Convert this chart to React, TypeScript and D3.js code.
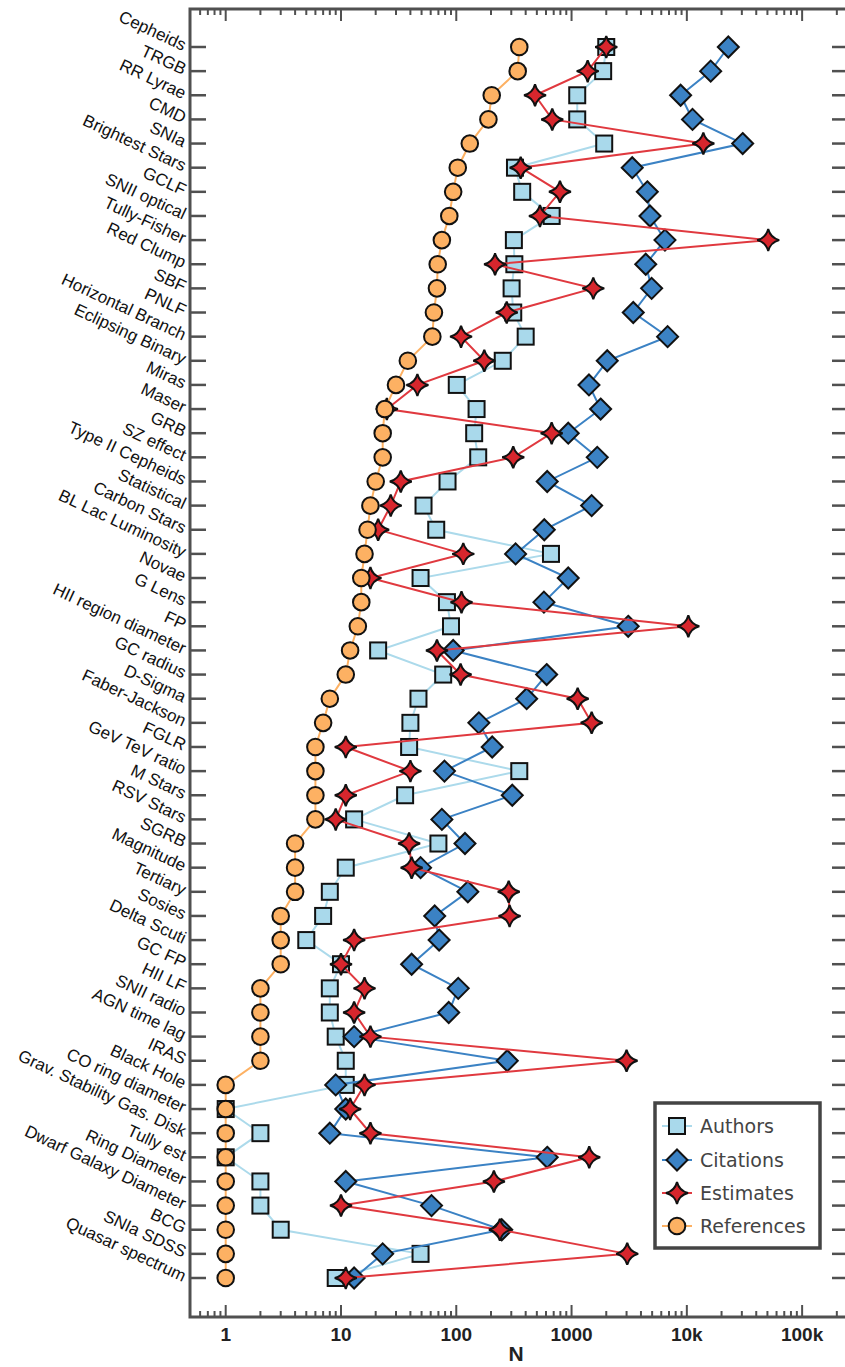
import React from 'react';
import * as d3 from 'd3';

const categories = [
  'Cepheids', 'TRGB', 'RR Lyrae', 'CMD', 'SNIa', 'Brightest Stars', 'GCLF', 'SNII optical',
  'Tully-Fisher', 'Red Clump', 'SBF', 'PNLF', 'Horizontal Branch', 'Eclipsing Binary', 'Miras',
  'Maser', 'GRB', 'SZ effect', 'Type II Cepheids', 'Statistical', 'Carbon Stars',
  'BL Lac Luminosity', 'Novae', 'G Lens', 'FP', 'HII region diameter', 'GC radius', 'D-Sigma',
  'Faber-Jackson', 'FGLR', 'GeV TeV ratio', 'M Stars', 'RSV Stars', 'SGRB', 'Magnitude',
  'Tertiary', 'Sosies', 'Delta Scuti', 'GC FP', 'HII LF', 'SNII radio', 'AGN time lag', 'IRAS',
  'Black Hole', 'CO ring diameter', 'Grav. Stability Gas. Disk', 'Tully est', 'Ring Diameter',
  'Dwarf Galaxy Diameter', 'BCG', 'SNIa SDSS', 'Quasar spectrum',
];

const authors = [
  2000, 1880, 1120, 1120, 1920, 323, 373, 672, 316, 319, 302, 312, 400, 253, 101, 150, 143, 155,
  84, 52, 67, 663, 49, 83, 90, 21, 77, 47, 40, 39, 352, 36, 13, 70, 11, 8, 7, 5, 10, 8, 8, 9,
  11, 11, 1, 2, 1, 2, 2, 3, 49, 9,
];

const citations = [
  22900, 16100, 8830, 11200, 30500, 3360, 4540, 4790, 6460, 4400, 4950, 3430, 6810, 2040, 1416,
  1787, 936, 1671, 615, 1494, 580, 327, 936, 576, 3100, 94, 608, 408, 157, 205, 79, 306, 75, 119,
  49, 126, 65, 71, 41, 104, 86, 13, 277, 9, 11, 8, 615, 11, 61, 248, 23, 13,
];

const estimates = [
  2000, 1380, 482, 680, 13900, 362, 793, 532, 50800, 217, 1543, 274, 110, 175, 46, 25, 672, 312,
  33, 27, 21, 115, 18, 111, 10300, 68, 109, 1130, 1494, 11, 40, 11, 9, 39, 41, 285, 290, 13, 10,
  16, 13, 18, 3000, 16, 12, 18, 1423, 212, 10, 239, 3040, 11,
];

const references = [
  352, 341, 203, 190, 131, 103, 94, 87, 75, 69, 68, 64, 62, 38, 30, 24, 23, 23, 20, 18, 17, 16,
  15, 15, 14, 12, 11, 8, 7, 6, 6, 6, 6, 4, 4, 4, 3, 3, 3, 2, 2, 2, 2, 1, 1, 1, 1, 1, 1, 1, 1, 1,
];

const xTickValues = [1, 10, 100, 1000, 10000, 100000];
const xTickLabels = ['1', '10', '100', '1000', '10k', '100k'];
const seriesNames = ['Authors', 'Citations', 'Estimates', 'References'];

const FRAME = '#505050';

const starPath = (r: number, c: number) =>
  `M0,${-r} Q${c},${-c} ${r},0 Q${c},${c} 0,${r} Q${-c},${c} ${-r},0 Q${-c},${-c} 0,${-r} Z`;
const diamondPath = (r: number) => `M0,${-r} L${r},0 L0,${r} L${-r},0 Z`;

function Marker({ kind, x, y, fill }: { kind: string; x: number; y: number; fill: string }) {
  const common = { fill, stroke: '#111', strokeWidth: 2 };
  if (kind === 'square') return <rect x={x - 8} y={y - 8} width={16} height={16} {...common} />;
  if (kind === 'diamond')
    return <path d={diamondPath(10.5)} transform={`translate(${x},${y})`} {...common} strokeLinejoin="miter" />;
  if (kind === 'star')
    return <path d={starPath(11, 2.2)} transform={`translate(${x},${y})`} {...common} strokeLinejoin="miter" />;
  return <circle cx={x} cy={y} r={8.3} {...common} />;
}

export default function App() {
  const W = 845;
  const H = 1367;
  const left = 190;
  const right = 848;
  const top = 9;
  const bottom = 1317;

  const x = d3.scaleLog().domain([0.5, 250000]).range([191, 848]);
  const y = d3.scaleLinear().domain([0, categories.length - 1]).range([47, 1278]);

  const series = [
    { name: seriesNames[0], values: authors, kind: 'square', fill: '#a9d9eb', line: '#acdaeb' },
    { name: seriesNames[1], values: citations, kind: 'diamond', fill: '#3b82c4', line: '#3b82c4' },
    { name: seriesNames[2], values: estimates, kind: 'star', fill: '#d7262d', line: '#e0393f' },
    { name: seriesNames[3], values: references, kind: 'circle', fill: '#fdb163', line: '#fdb163' },
  ];

  const lineGen = d3
    .line<number>()
    .x((d) => x(d))
    .y((_, i) => y(i));

  const minorTicks: number[] = [];
  for (let e = -1; e <= 5; e++) {
    for (let k = 1; k <= 9; k++) {
      const v = k * Math.pow(10, e);
      if (v > 0.5 && v < 250000) minorTicks.push(v);
    }
  }

  const legendX = 655;
  const legendY = 1103;
  const legendRows = [1126, 1160, 1193, 1226];

  return (
    <svg
      width={W}
      height={H}
      style={{ position: 'absolute', left: 0, top: 0, background: '#fff' }}
      fontFamily="'Liberation Sans', Arial, Helvetica, sans-serif"
    >
      <rect x={0} y={0} width={W} height={H} fill="#fff" />

      {/* x-axis ticks (bottom and top) */}
      {minorTicks.map((v, i) => {
        const major = xTickValues.includes(v);
        const len = major ? 12 : 6;
        return (
          <g key={`t${i}`} stroke={FRAME} strokeWidth={2}>
            <line x1={x(v)} x2={x(v)} y1={bottom} y2={bottom - len} />
            <line x1={x(v)} x2={x(v)} y1={top} y2={top + len} />
          </g>
        );
      })}

      {/* y-axis ticks (left and right) */}
      {categories.map((c, i) => (
        <g key={`yt${i}`} stroke={FRAME} strokeWidth={2.5}>
          <line x1={left} x2={left + 16} y1={y(i)} y2={y(i)} />
          <line x1={right} x2={right - 16} y1={y(i)} y2={y(i)} />
        </g>
      ))}

      {/* frame */}
      <rect x={left} y={top} width={right - left} height={bottom - top} fill="none" stroke={FRAME} strokeWidth={3} />

      {/* series */}
      {series.map((s) => (
        <g key={s.name}>
          <path d={lineGen(s.values) || ''} fill="none" stroke={s.line} strokeWidth={2} />
          {s.values.map((v, i) => (
            <Marker key={i} kind={s.kind} x={x(v)} y={y(i)} fill={s.fill} />
          ))}
        </g>
      ))}

      {/* y labels */}
      {categories.map((c, i) => (
        <text
          key={`yl${i}`}
          transform={`translate(185,${y(i) - 1}) rotate(25)`}
          textAnchor="end"
          dominantBaseline="central"
          fontSize={17}
          fill="#111"
        >
          {c}
        </text>
      ))}

      {/* x tick labels */}
      {xTickValues.map((v, i) => (
        <text
          key={`xl${i}`}
          x={x(v)}
          y={1341}
          textAnchor="middle"
          fontSize={19}
          fontWeight="bold"
          fill="#222"
        >
          {xTickLabels[i]}
        </text>
      ))}
      <text x={516} y={1361} textAnchor="middle" fontSize={21} fontWeight="bold" fill="#222">
        N
      </text>

      {/* legend */}
      <rect x={legendX} y={legendY} width={165} height={145} fill="#fff" stroke="#444" strokeWidth={3.5} />
      {series.map((s, i) => (
        <g key={`lg${i}`}>
          <line x1={662} x2={692} y1={legendRows[i]} y2={legendRows[i]} stroke={s.line} strokeWidth={2} />
          <Marker kind={s.kind} x={677} y={legendRows[i]} fill={s.fill} />
          <text
            x={700}
            y={legendRows[i]}
            dominantBaseline="central"
            fontSize={19}
            fontFamily="'DejaVu Sans', Verdana, sans-serif"
            fill="#444"
          >
            {s.name}
          </text>
        </g>
      ))}
    </svg>
  );
}
